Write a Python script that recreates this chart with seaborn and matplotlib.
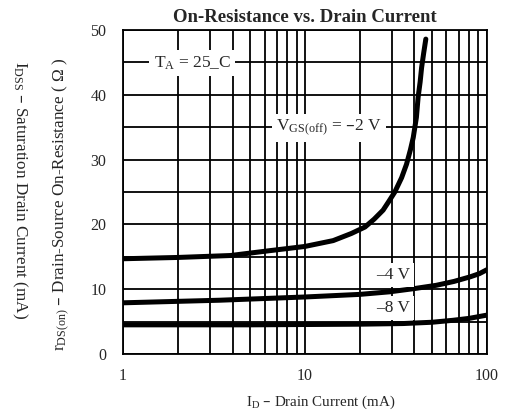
import numpy as np
import pandas as pd
import matplotlib
matplotlib.use("Agg")
import matplotlib.pyplot as plt
from matplotlib.ticker import MultipleLocator, LogLocator, NullFormatter, FixedLocator
import seaborn as sns

# curve data
id_2v = [1, 2, 3.9, 6.2, 10, 14.3, 18, 21.4, 24, 26.9, 29, 31.2, 34,
         36.2, 38, 39.4, 41, 41.9, 43, 43.8, 45, 46.2]
r_2v = [14.7, 14.9, 15.2, 15.9, 16.6, 17.5, 18.6, 19.6, 20.8, 22.2, 23.6, 25.0, 27.2,
        29.3, 31.5, 33.4, 36.5, 39.6, 42.0, 44.2, 46.5, 48.6]

id_4v = [1, 3.4, 10, 20, 29.3, 40, 52.7, 66, 80.8, 91, 100]
r_4v = [7.9, 8.3, 8.8, 9.2, 9.6, 10.1, 10.6, 11.2, 11.9, 12.4, 13.0]

id_8v = [1, 5, 10, 20, 34.6, 50, 65, 80, 100]
r_8v = [4.5, 4.5, 4.55, 4.6, 4.7, 4.9, 5.2, 5.5, 6.0]

x_ticks = [1, 10, 100]
y_ticks = [0, 10, 20, 30, 40, 50]

sns.set_theme(style="white")
plt.rcParams["font.family"] = ["Liberation Serif", "DejaVu Serif"]

df = pd.concat([
    pd.DataFrame({"id": id_2v, "r": r_2v, "curve": "-2V"}),
    pd.DataFrame({"id": id_4v, "r": r_4v, "curve": "-4V"}),
    pd.DataFrame({"id": id_8v, "r": r_8v, "curve": "-8V"}),
])

fig = plt.figure(figsize=(5.05, 4.18), dpi=100)
ax = fig.add_axes([0.2436, 0.1531, 0.7204, 0.7751])

sns.lineplot(data=df, x="id", y="r", units="curve", estimator=None,
             color="black", lw=3.6, ax=ax, sort=True)
for ln in ax.lines:
    ln.set_solid_joinstyle("round")
    ln.set_solid_capstyle("round")

ax.set_xscale("log")
ax.set_xlim(1, 100)
ax.set_ylim(0, 50)
ax.xaxis.set_major_locator(FixedLocator(x_ticks))
ax.set_xticklabels([str(t) for t in x_ticks])
ax.xaxis.set_minor_locator(LogLocator(base=10, subs=np.arange(2, 10)))
ax.xaxis.set_minor_formatter(NullFormatter())
ax.set_yticks(y_ticks)
ax.yaxis.set_minor_locator(MultipleLocator(5))
ax.grid(which="both", color="black", lw=1.3)
ax.tick_params(which="both", length=0, labelsize=11.5)
ax.tick_params(axis="x", pad=10)
ax.tick_params(axis="y", pad=12)
for s in ax.spines.values():
    s.set_color("black")
    s.set_linewidth(1.3)

ax.set_xlabel("")
ax.set_ylabel("")
ax.set_title("On-Resistance vs. Drain Current", fontsize=13.5,
             fontweight="bold", pad=6)

box = dict(facecolor="white", edgecolor="none", pad=3)
ax.text(2.4, 44.9, r"$\mathregular{T_A}$ = 25_C", fontsize=12.5,
        ha="center", va="center", bbox=box)
ax.text(13.6, 34.9, r"$\mathregular{V_{GS(off)}}$ = –2 V", fontsize=12.5,
        ha="center", va="center", bbox=box)
ax.text(30.4, 12.2, "–4 V", fontsize=12.5, ha="center", va="center", bbox=box)
ax.text(30.4, 7.1, "–8 V", fontsize=12.5, ha="center", va="center", bbox=box)

fig.text(0.634, 0.038, r"$\mathregular{I_D}$ – Drain Current (mA)",
         fontsize=10.8, ha="center", va="center")
fig.text(0.122, 0.512,
         r"$\mathregular{r_{DS(on)}}$ – Drain-Source On-Resistance ( Ω )",
         fontsize=12.3, ha="center", va="center", rotation=90)
fig.text(0.038, 0.546, r"$\mathregular{I_{DSS}}$ – Saturation Drain Current (mA)",
         fontsize=12.3, ha="center", va="center", rotation=270)

fig.savefig("out.png", dpi=100)
